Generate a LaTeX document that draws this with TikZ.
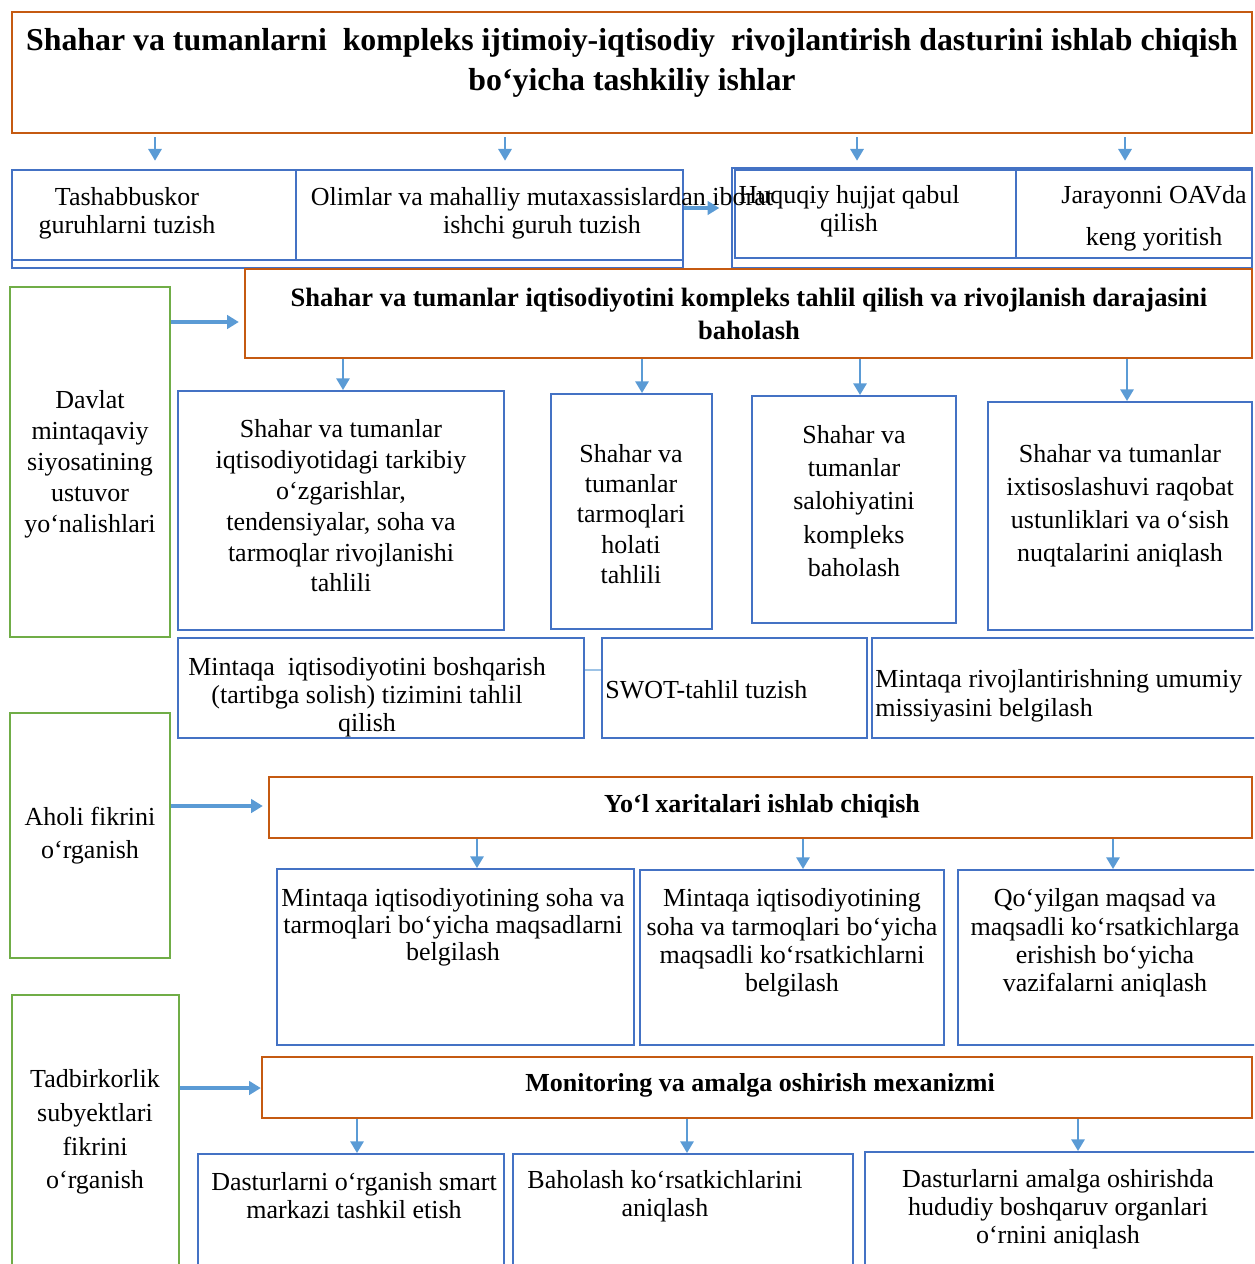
\documentclass[tikz,border=0pt]{standalone}
\usepackage{fontspec}
\setmainfont{Liberation Serif}
\usetikzlibrary{arrows.meta,positioning,fit,calc}
\definecolor{orng}{RGB}{197,90,17}
\definecolor{blu}{RGB}{68,114,196}
\definecolor{arrblue}{RGB}{91,155,213}
\definecolor{grn}{RGB}{112,173,71}
\tikzset{
  orangebox/.style={draw=orng, line width=1.4pt, inner sep=0pt},
  bluebox/.style={draw=blu, line width=1.2pt, inner sep=0pt},
  greenbox/.style={draw=grn, line width=1.2pt, inner sep=0pt},
  txt/.style={align=center, inner sep=0pt, font=\fontsize{15.6}{#1}\selectfont},
  txt/.default=18.6,
  titletxt/.style={align=center, inner sep=0pt, font=\bfseries\fontsize{19.1}{24}\selectfont},
  headtxt/.style={align=center, inner sep=0pt, font=\bfseries\fontsize{15.9}{20}\selectfont},
  arr/.style={draw=arrblue, line width=1.2pt, -{Triangle[width=8pt,length=7pt]}},
  sidearr/.style={arr, line width=2pt, shorten >=3pt},
  conn/.style={draw=arrblue!60, line width=1pt}
}
\begin{document}
\begin{tikzpicture}[x=0.6pt, y=-0.6pt]
\clip (0,0) rectangle (1254,1264);

% title
\node[orangebox, fit={(12,12)(1252,133)}] (title) {};
\node[titletxt] (titleT) at (632,63) {Shahar va tumanlarni~ kompleks ijtimoiy-iqtisodiy~ rivojlantirish dasturini ishlab chiqish\\bo‘yicha tashkiliy ishlar};

% tashkiliy ishlar
\node[bluebox, fit={(12,170)(683,268)}] (leftgrp) {};
\node[bluebox, fit={(12,170)(296,260)}] (tash) {};
\node[bluebox, fit={(296,170)(683,260)}] (olim) {};
\node[bluebox, fit={(732,168)(1252,268)}] (rightgrp) {};
\node[bluebox, fit={(735,170)(1016,258)}] (huq) {};
\node[bluebox, fit={(1016,170)(1252,258)}] (jar) {};
\node[txt=17] (tashT) at (127,213) {Tashabbuskor\\guruhlarni tuzish};
\node[txt=17] (olimT) at (542,213) {Olimlar va mahalliy mutaxassislardan iborat\\ishchi guruh tuzish};
\node[txt=17] (huqT) at (849,211) {Huquqiy hujjat qabul\\qilish};
\node[txt=25] (jarT) at (1154,218) {Jarayonni OAVda\\keng yoritish};

% chap tomondagi omillar
\node[greenbox, fit={(10,287)(170,637)}] (davlat) {};
\node[greenbox, fit={(10,713)(170,958)}] (aholi) {};
\node[greenbox, fit={(12,995)(179,1280)}] (tadb) {};
\node[txt] (davlatT) at (90,464) {Davlat\\mintaqaviy\\siyosatining\\ustuvor\\yo‘nalishlari};
\node[txt=19.8] (aholiT) at (90,836) {Aholi fikrini\\o‘rganish};
\node[txt=20.2] (tadbT) at (95,1132) {Tadbirkorlik\\subyektlari\\fikrini\\o‘rganish};

% kompleks tahlil
\node[orangebox, fit={(245,269)(1252,358)}] (tahlil) {};
\node[headtxt] (tahlilT) at (749,314) {Shahar va tumanlar iqtisodiyotini kompleks tahlil qilish va rivojlanish darajasini\\baholash};
\node[bluebox, fit={(178,391)(504,630)}] (tarkib) {};
\node[bluebox, fit={(551,394)(712,629)}] (holat) {};
\node[bluebox, fit={(752,396)(956,623)}] (salohiyat) {};
\node[bluebox, fit={(988,402)(1252,630)}] (ixtis) {};
\node[txt=18.5] (tarkibT) at (341,506) {Shahar va tumanlar\\iqtisodiyotidagi tarkibiy\\o‘zgarishlar,\\tendensiyalar, soha va\\tarmoqlar rivojlanishi\\tahlili};
\node[txt=18.2] (holatT) at (631,514) {Shahar va\\tumanlar\\tarmoqlari\\holati\\tahlili};
\node[txt=20] (salohiyatT) at (854,501) {Shahar va\\tumanlar\\salohiyatini\\kompleks\\baholash};
\node[txt=19.8] (ixtisT) at (1120,506) {Shahar va tumanlar\\ixtisoslashuvi raqobat\\ustunliklari va o‘sish\\nuqtalarini aniqlash};

\node[bluebox, fit={(178,638)(584,738)}] (boshq) {};
\node[bluebox, fit={(602,638)(867,738)}] (swot) {};
\node[bluebox, fit={(872,638)(1262,738)}] (missiya) {};
\node[txt=16.8] (boshqT) at (367,697) {Mintaqa~ iqtisodiyotini boshqarish\\(tartibga solish) tizimini tahlil\\qilish};
\node[txt, anchor=west] (swotT) at (605,690) {SWOT-tahlil tuzish};
\node[txt=17.4, align=left, anchor=west] (missiyaT) at (875,696) {Mintaqa rivojlantirishning umumiy\\missiyasini belgilash};

% yo'l xaritalari
\node[orangebox, fit={(269,777)(1252,838)}] (yol) {};
\node[headtxt, font=\bfseries\fontsize{15.6}{20}\selectfont] (yolT) at (762,806) {Yo‘l xaritalari ishlab chiqish};
\node[bluebox, fit={(277,869)(634,1045)}] (maqsad) {};
\node[bluebox, fit={(640,870)(944,1045)}] (korsat) {};
\node[bluebox, fit={(958,870)(1262,1045)}] (vazifa) {};
\node[txt=16.2] (maqsadT) at (453,927) {Mintaqa iqtisodiyotining soha va\\tarmoqlari bo‘yicha maqsadlarni\\belgilash};
\node[txt=17] (korsatT) at (792,943) {Mintaqa iqtisodiyotining\\soha va tarmoqlari bo‘yicha\\maqsadli ko‘rsatkichlarni\\belgilash};
\node[txt=17] (vazifaT) at (1105,943) {Qo‘yilgan maqsad va\\maqsadli ko‘rsatkichlarga\\erishish bo‘yicha\\vazifalarni aniqlash};

% monitoring
\node[orangebox, fit={(262,1057)(1252,1118)}] (mon) {};
\node[headtxt, font=\bfseries\fontsize{15.6}{20}\selectfont] (monT) at (760,1085) {Monitoring va amalga oshirish mexanizmi};
\node[bluebox, fit={(198,1154)(504,1280)}] (smart) {};
\node[bluebox, fit={(513,1154)(853,1280)}] (baho) {};
\node[bluebox, fit={(865,1152)(1262,1280)}] (organ) {};
\node[txt=16.8] (smartT) at (354,1196) {Dasturlarni o‘rganish smart\\markazi tashkil etish};
\node[txt=16.8] (bahoT) at (665,1196) {Baholash ko‘rsatkichlarini\\aniqlash};
\node[txt=16.8] (organT) at (1058,1209) {Dasturlarni amalga oshirishda\\hududiy boshqaruv organlari\\o‘rnini aniqlash};

% strelkalar
\foreach \x/\b in {155/tash, 505/olim, 857/huq, 1125/jar}
  \draw[arr, shorten <=2pt, shorten >=5pt] (title.south -| \x,0) -- (\b.north -| \x,0);
\draw[sidearr, shorten >=7pt] (leftgrp.east |- 0,208) -- (rightgrp.west |- 0,208);
\foreach \x/\b in {343/tarkib, 642/holat, 860/salohiyat, 1127/ixtis}
  \draw[arr] (tahlil.south -| \x,0) -- (\b.north -| \x,0);
\draw[conn] (boshq.east |- 0,670) -- (swot.west |- 0,670);
\foreach \x/\b in {477/maqsad, 803/korsat, 1113/vazifa}
  \draw[arr] (yol.south -| \x,0) -- (\b.north -| \x,0);
\foreach \x/\b in {357/smart, 687/baho, 1078/organ}
  \draw[arr] (mon.south -| \x,0) -- (\b.north -| \x,0);
\draw[sidearr] (davlat.east |- 0,322) -- (tahlil.west |- 0,322);
\draw[sidearr] (aholi.east |- 0,806) -- (yol.west |- 0,806);
\draw[sidearr, shorten >=0pt] (tadb.east |- 0,1088) -- (mon.west |- 0,1088);
\end{tikzpicture}
\end{document}
